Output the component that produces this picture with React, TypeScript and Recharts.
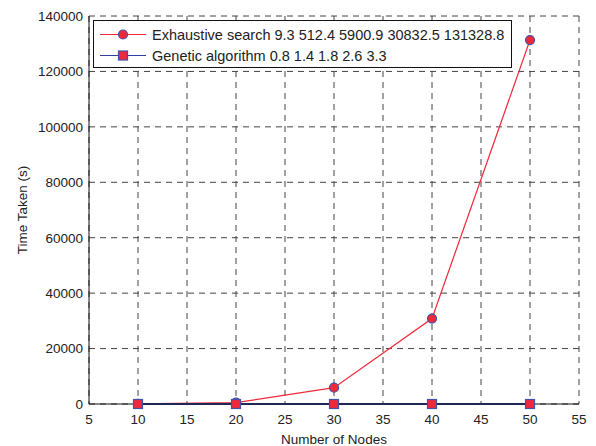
import React from 'react';
import { LineChart, Line, XAxis, YAxis, CartesianGrid, Legend } from 'recharts';

const nodeCounts = [10, 20, 30, 40, 50];
const exhaustiveTimes = [9.3, 512.4, 5900.9, 30832.5, 131328.8];
const geneticTimes = [0.8, 1.4, 1.8, 2.6, 3.3];
const seriesNames = [
  'Exhaustive search 9.3 512.4 5900.9 30832.5 131328.8',
  'Genetic algorithm 0.8 1.4 1.8 2.6 3.3',
];
const xTicks = [5, 10, 15, 20, 25, 30, 35, 40, 45, 50, 55];
const yTicks = [0, 20000, 40000, 60000, 80000, 100000, 120000, 140000];

const data = nodeCounts.map((n, i) => ({
  nodes: n,
  exhaustive: exhaustiveTimes[i],
  genetic: geneticTimes[i],
}));

const RED = '#f0283a';
const EDGE = '#4352a8';
const BLUE = '#2f3f9e';
const FONT = '"Liberation Sans", Arial, sans-serif';
const tickStyle = { fill: '#222', fontSize: 13.5, fontFamily: FONT };
const labelStyle = { fill: '#222', fontSize: 13.5, fontFamily: FONT };

const CircleDot = (props: any) => {
  const { cx, cy, key } = props;
  if (cx == null || cy == null) return null;
  return <circle key={key} cx={cx} cy={cy} r={4.5} fill={RED} stroke={EDGE} strokeWidth={1.2} />;
};

const SquareDot = (props: any) => {
  const { cx, cy, key } = props;
  if (cx == null || cy == null) return null;
  return <rect key={key} x={cx - 4.5} y={cy - 4.5} width={9} height={9} fill={RED} stroke={EDGE} strokeWidth={1.2} />;
};

const LegendBox = () => (
  <div
    style={{
      width: 419,
      height: 48,
      boxSizing: 'border-box',
      border: '1px solid #111',
      background: '#fff',
      fontFamily: FONT,
      fontSize: 14.5,
      color: '#222',
    }}
  >
    {seriesNames.map((name, i) => (
      <div key={name} style={{ display: 'flex', alignItems: 'center', height: 21, marginTop: i === 0 ? 3 : 0 }}>
        <svg width={58} height={21} style={{ flex: 'none' }}>
          <line x1={6} y1={10.5} x2={52} y2={10.5} stroke={i === 0 ? RED : BLUE} strokeWidth={1.2} />
          {i === 0 ? (
            <circle cx={29} cy={10.5} r={4.5} fill={RED} stroke={EDGE} strokeWidth={1.2} />
          ) : (
            <rect x={24.5} y={6} width={9} height={9} fill={RED} stroke={EDGE} strokeWidth={1.2} />
          )}
        </svg>
        <span style={{ whiteSpace: 'nowrap' }}>{name}</span>
      </div>
    ))}
  </div>
);

export default function App() {
  return (
    <div style={{ position: 'absolute', left: 0, top: 0, width: 596, height: 446, background: '#fff' }}>
      <LineChart width={596} height={446} data={data} margin={{ top: 16, right: 17, bottom: 0, left: 0 }}>
        <CartesianGrid stroke="#444" strokeDasharray="6 5" strokeWidth={1} />
        <XAxis
          dataKey="nodes"
          type="number"
          domain={[5, 55]}
          ticks={xTicks}
          height={42}
          tickSize={0}
          tickMargin={10}
          tickLine={false}
          axisLine={{ stroke: '#111' }}
          tick={tickStyle}
          label={{ value: 'Number of Nodes', position: 'insideBottom', offset: 2, style: labelStyle }}
        />
        <YAxis
          type="number"
          domain={[0, 140000]}
          ticks={yTicks}
          width={89}
          tickSize={0}
          tickMargin={6}
          tickLine={false}
          axisLine={{ stroke: '#111' }}
          tick={tickStyle}
          label={{ value: 'Time Taken (s)', angle: -90, position: 'insideLeft', offset: 22, style: { ...labelStyle, textAnchor: 'middle' } }}
        />
        {/* inward tick marks on all four sides */}
        <XAxis xAxisId="bt" dataKey="nodes" type="number" domain={[5, 55]} ticks={xTicks} orientation="bottom" mirror height={0} tickSize={5} tick={false} axisLine={false} tickLine={{ stroke: '#111' }} />
        <XAxis xAxisId="tp" dataKey="nodes" type="number" domain={[5, 55]} ticks={xTicks} orientation="top" mirror height={0} tickSize={5} tick={false} axisLine={{ stroke: '#111' }} tickLine={{ stroke: '#111' }} />
        <YAxis yAxisId="lt" type="number" domain={[0, 140000]} ticks={yTicks} orientation="left" mirror width={0} tickSize={5} tick={false} axisLine={false} tickLine={{ stroke: '#111' }} />
        <YAxis yAxisId="rt" type="number" domain={[0, 140000]} ticks={yTicks} orientation="right" mirror width={0} tickSize={5} tick={false} axisLine={{ stroke: '#111' }} tickLine={{ stroke: '#111' }} />
        <Legend
          layout="horizontal"
          verticalAlign="middle"
          align="center"
          content={() => <LegendBox />}
          wrapperStyle={{ left: 93, top: 20, width: 419, height: 48 }}
        />
        <Line
          name={seriesNames[0]}
          dataKey="exhaustive"
          stroke={RED}
          strokeWidth={1.2}
          dot={CircleDot}
          isAnimationActive={false}
        />
        <Line
          name={seriesNames[1]}
          dataKey="genetic"
          stroke={BLUE}
          strokeWidth={1.8}
          dot={SquareDot}
          isAnimationActive={false}
        />
      </LineChart>
    </div>
  );
}
